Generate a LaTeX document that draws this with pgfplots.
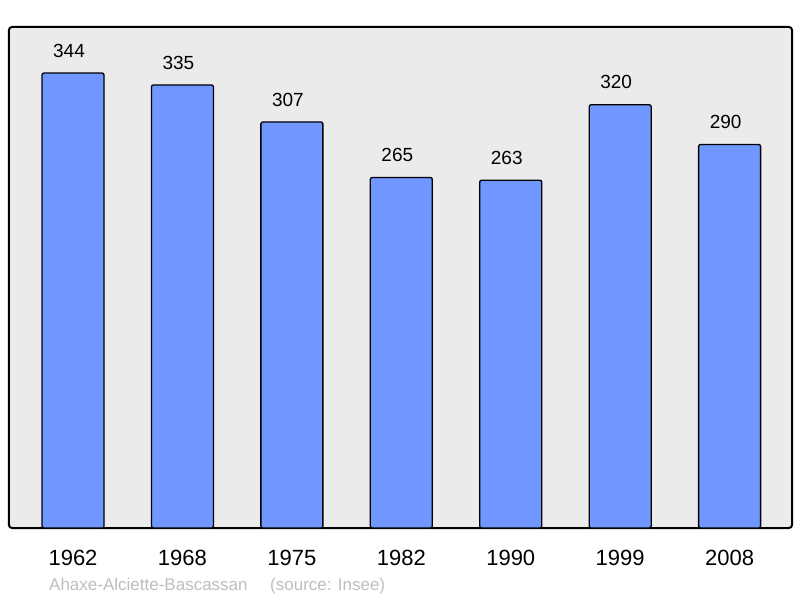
\documentclass[border=0pt]{standalone}
\usepackage{pgfplots}
\pgfplotsset{compat=1.18}
\usepackage{fontspec}
\setmainfont{Liberation Sans}
\definecolor{barblue}{RGB}{112,150,255}
\definecolor{panel}{RGB}{235,235,235}
\definecolor{srcgray}{RGB}{190,190,190}
\begin{document}
\begin{tikzpicture}[x=1pt,y=1pt]
  \useasboundingbox (0,0) rectangle (800,598);
  \begin{axis}[
      at={(9pt,70pt)}, anchor=south west,
      scale only axis,
      width=783pt, height=501pt,
      ymin=0, ymax=378.8,
      xmin=-0.585, xmax=6.57,
      /pgf/number format/assume math mode=true,
      axis background/.style={fill=panel},
      axis line style={line width=2pt, rounded corners=3pt},
      ytick=\empty,
      xtick={0,...,6},
      xticklabels={1962,1968,1975,1982,1990,1999,2008},
      major tick length=0pt,
      xticklabel style={font=\fontsize{22}{26}\selectfont, anchor=base, inner sep=0pt, yshift=-37pt},
      ybar, bar width=62pt,
      every node near coord/.append style={font=\fontsize{19}{23}\selectfont, anchor=south, inner sep=0pt, yshift=15pt, xshift=-4pt, black},
      nodes near coords={\pgfmathprintnumber[assume math mode=true]{\pgfplotspointmeta}},
      clip=false,
    ]
    \addplot[fill=barblue, draw=black, line width=1.3pt, rounded corners=2pt]
      coordinates {(0,344) (1,335) (2,307) (3,265) (4,263) (5,320) (6,290)};
  \end{axis}
  \node[anchor=base west, inner sep=0pt, text=srcgray, font=\fontsize{17}{20}\selectfont] at (49,8) {Ahaxe-Alciette-Bascassan};
  \node[anchor=base west, inner sep=0pt, text=srcgray, font=\fontsize{17}{20}\selectfont] at (270,8) {(source: Insee)};
\end{tikzpicture}
\end{document}
